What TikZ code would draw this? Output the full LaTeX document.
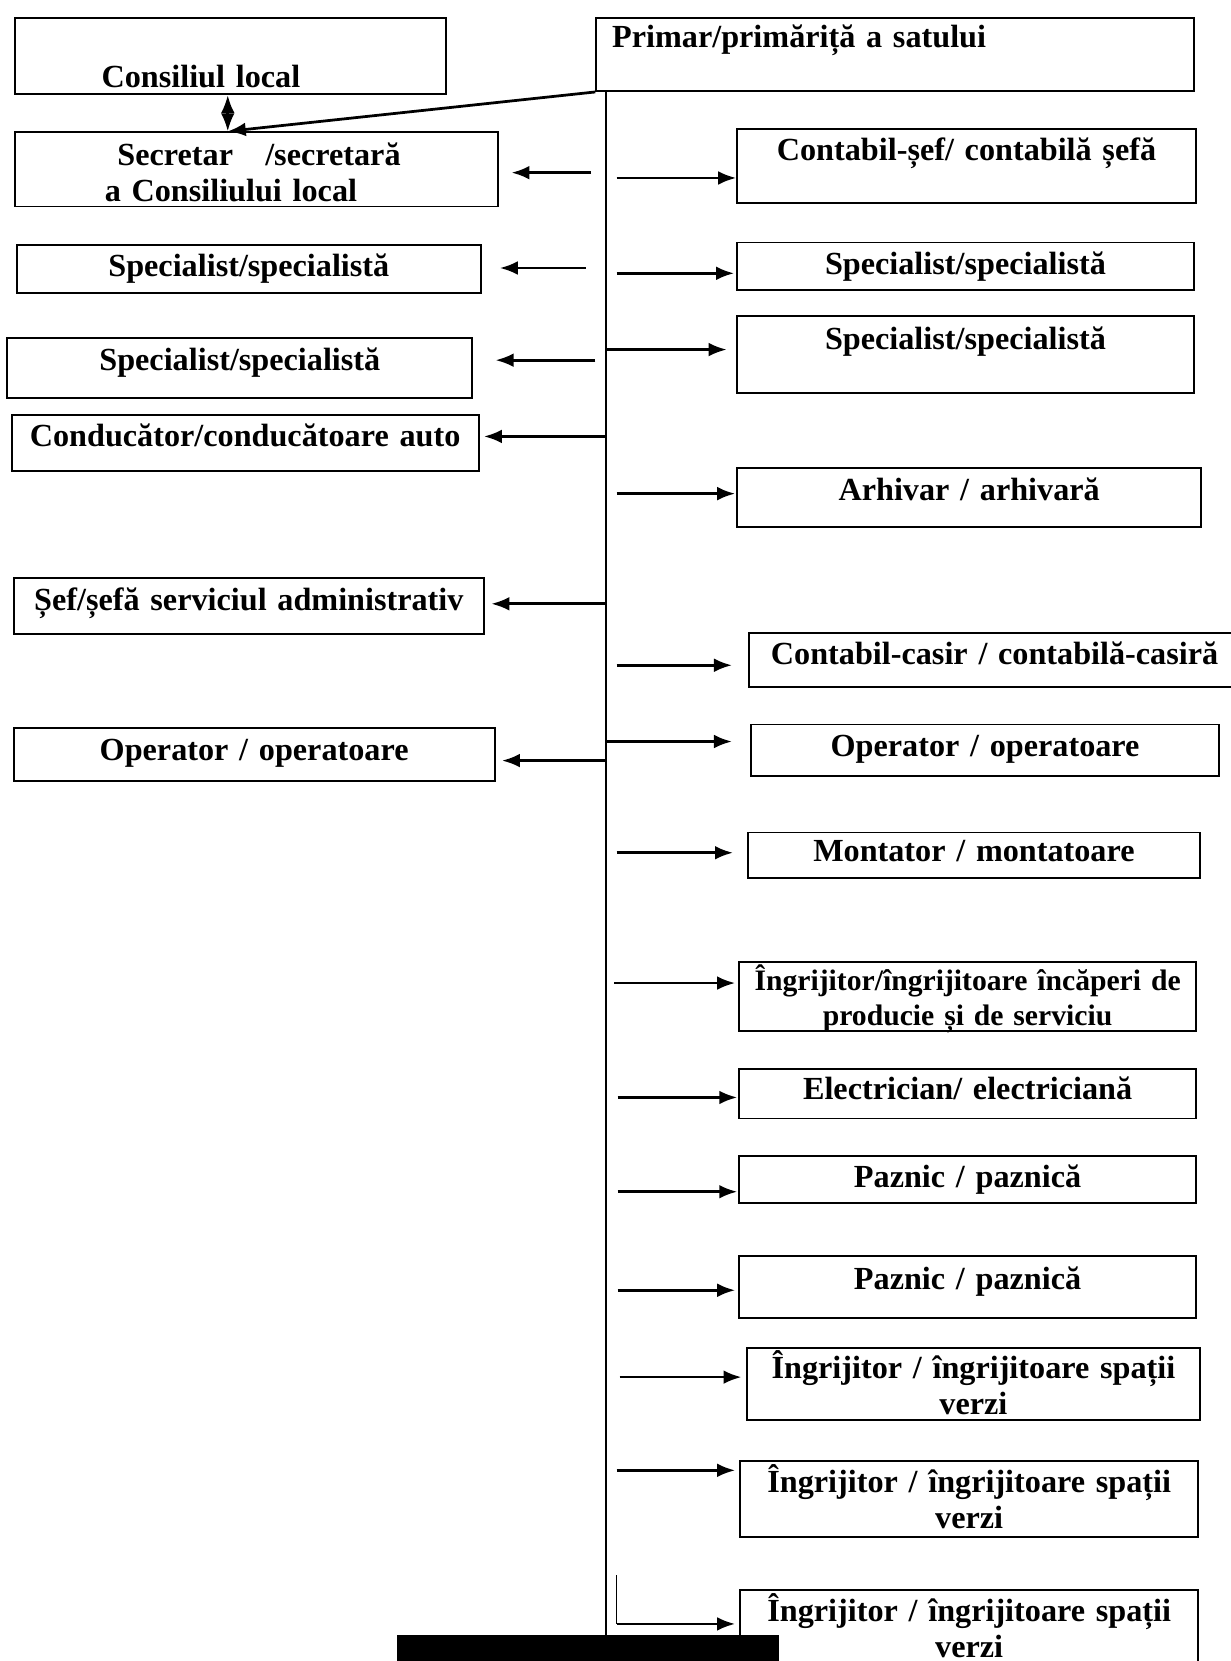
\documentclass[tikz,border=0pt]{standalone}
\usepackage{fontspec}
\setmainfont{Liberation Serif}[WordSpace=0.8]
\usetikzlibrary{arrows.meta}

\begin{document}
\begin{tikzpicture}[x=1pt,y=-1pt,
  box/.style={draw, line width=0.9pt, anchor=north west, inner sep=0pt, align=center,
    font=\bfseries\fontsize{15.2}{17}\selectfont},
  arr/.style={line width=1.3pt, -{Latex[length=8.5pt,width=6.5pt]}},
  arr2/.style={line width=1.3pt, {Latex[length=8.5pt,width=6.5pt]}-{Latex[length=8.5pt,width=6.5pt]}},
  trunk/.style={line width=0.8pt}]
  \useasboundingbox (0,0) rectangle (581,784);

  % left column
  \node[box, align=left, text width=203.5pt, text height=33pt, text depth=3pt] (cl) at (6.5,8) {\hspace*{41pt}Consiliul local};
  \node[box, align=left, text width=228pt, text height=15.5pt, text depth=19.5pt] (sec) at (6.5,62) {\hspace*{48.5pt}Secretar\ \ \ /secretară\\\hspace*{42.5pt}a Consiliului local};
  \node[box, text width=219pt, text height=15pt, text depth=8pt] (spl1) at (7.5,115) {Specialist/specialistă};
  \node[box, text width=219.5pt, text height=15.5pt, text depth=13pt] (spl2) at (3,159) {Specialist/specialistă};
  \node[box, text width=220.5pt, text height=15pt, text depth=11.5pt] (cond) at (5,195.5) {Conducător/conducătoare auto};
  \node[box, text width=222pt, text height=15pt, text depth=11.5pt] (sef) at (6,272.5) {Șef/șefă serviciul administrativ};
  \node[box, text width=227pt, text height=15.5pt, text depth=9.5pt] (opl) at (6,343) {Operator / operatoare};

  % right column
  \node[box, align=left, text width=282pt, text height=14pt, text depth=20.5pt] (pr) at (281,8) {\hspace*{7.5pt}Primar/primăriță a satului};
  \node[box, text width=216.5pt, text height=15pt, text depth=20pt] (cs) at (347.5,60.5) {Contabil-șef/ contabilă șefă};
  \node[box, text width=215.5pt, text height=15pt, text depth=7.5pt] (spr1) at (347.5,114) {Specialist/specialistă};
  \node[box, text width=215.5pt, text height=16pt, text depth=20.5pt] (spr2) at (347.5,148.5) {Specialist/specialistă};
  \node[box, text width=219pt, text height=15.5pt, text depth=12.5pt] (arh) at (347.5,220.5) {Arhivar / arhivară};
  \node[box, text width=232pt, text height=14.5pt, text depth=11pt] (cas) at (353,298.5) {Contabil-casir / contabilă-casiră};
  \node[box, text width=221pt, text height=15pt, text depth=9.5pt] (opr) at (354,341.5) {Operator / operatoare};
  \node[box, text width=213.5pt, text height=13.5pt, text depth=8pt] (mon) at (352.5,392.5) {Montator / montatoare};
  \node[box, text width=215.5pt, text height=13.5pt, text depth=19pt, font=\bfseries\fontsize{14}{16.5}\selectfont] (ing) at (348.5,453.5) {Îngrijitor/îngrijitoare încăperi de\\producie și de serviciu};
  \node[box, text width=215.5pt, text height=14.5pt, text depth=9pt] (el) at (348.5,504) {Electrician/ electriciană};
  \node[box, text width=215.5pt, text height=15pt, text depth=7.5pt] (pz1) at (348.5,545) {Paznic / paznică};
  \node[box, text width=215.5pt, text height=15.5pt, text depth=13.5pt] (pz2) at (348.5,592.5) {Paznic / paznică};
  \node[box, text width=214pt, text height=14pt, text depth=20pt] (isp1) at (352,636) {Îngrijitor / îngrijitoare spații\\verzi};
  \node[box, text width=216pt, text height=15pt, text depth=21pt] (isp2) at (349,689) {Îngrijitor / îngrijitoare spații\\verzi};
  \node[box, text width=216pt, text height=15pt, text depth=22pt] (isp3) at (349,750) {Îngrijitor / îngrijitoare spații\\verzi};

  % trunk and top links
  \coordinate (trk) at (286,775);
  \draw[trunk] (pr.south -| trk) -- (trk);
  \coordinate (jn) at (107.5,62);
  \draw[arr2] (cl.south -| jn) -- (jn);
  \draw[arr] (pr.south west) -- (jn);

  % arrows to the right
  \foreach \n/\x/\y/\g in {cs/291/84/0, spr1/291/129/1, spr2/286/165/4.5, arh/291/233/0.5,
      cas/291/314/7.5, opr/286/350/8.5, mon/291/402.5/6.5, ing/290/464/1.5, el/291.5/518/0.5,
      pz1/291.5/562.5/0.5, pz2/291.5/609/1.5, isp1/292.5/650/2, isp2/291/694/2, isp3/291/766.5/2}
  {
    \coordinate (s-\n) at (\x,\y);
    \draw[arr, shorten >=\g pt] (s-\n) -- (\n.west |- s-\n);
  }
  % arrows to the left
  \foreach \n/\x/\y/\g in {sec/279/81.5/6, spl1/276.5/126.5/8.5, spl2/281/170/10.5,
      cond/286/206/2, sef/286/285/3, opl/286/359/3}
  {
    \coordinate (s-\n) at (\x,\y);
    \draw[arr, shorten >=\g pt] (s-\n) -- (\n.east |- s-\n);
  }
  \coordinate (kink) at (291,743.5);
  \draw[trunk] (kink) -- (s-isp3);

  % blacked out strip
  \fill (187.5,771.5) rectangle (367.5,790);
\end{tikzpicture}
\end{document}
